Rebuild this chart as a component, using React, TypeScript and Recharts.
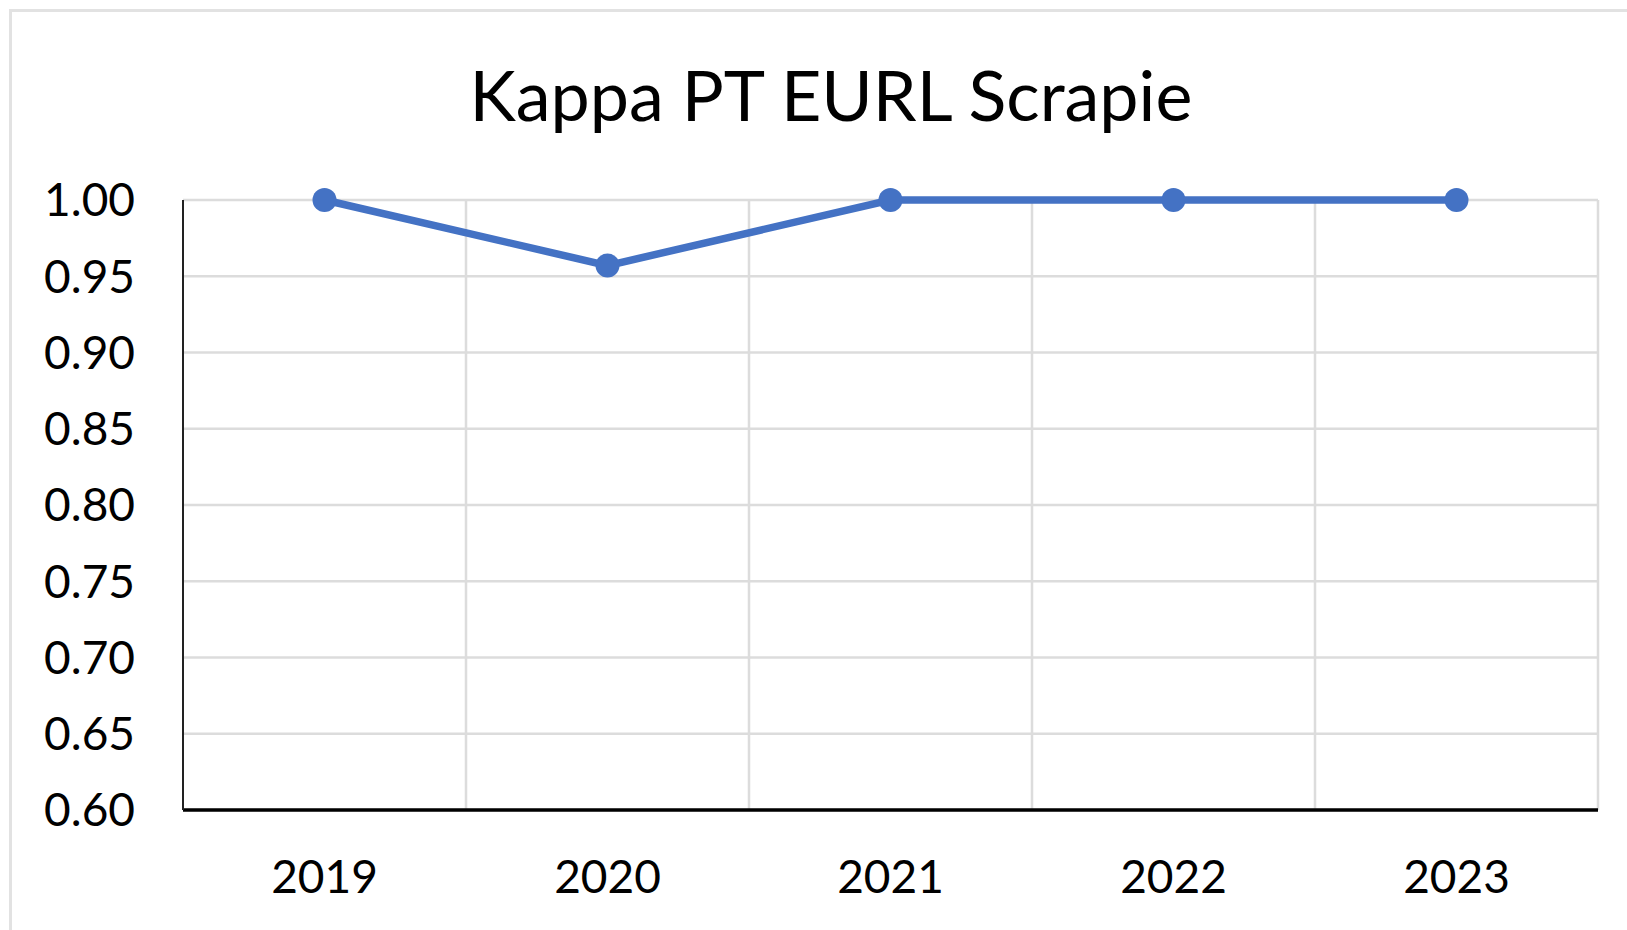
import { CartesianGrid, Line, LineChart, ReferenceLine, XAxis, YAxis } from "recharts";

const YEARS = ["2019", "2020", "2021", "2022", "2023"];
const KAPPA = [1.0, 0.957, 1.0, 1.0, 1.0];
const Y_TICKS = [0.6, 0.65, 0.7, 0.75, 0.8, 0.85, 0.9, 0.95, 1.0];

const FONT = "Lato, 'Open Sans', sans-serif";
const BLUE = "#4472c4";
const GRID = "#dcdcdc";

// x is the category slot index; points sit in the middle of each slot
const data = YEARS.map((year, i) => ({ x: i + 0.5, year, kappa: KAPPA[i] }));
const xTicks = data.map((d) => d.x);
const boundaries = YEARS.map((_, i) => i + 1);

export default function App() {
  return (
    <div
      style={{
        position: "absolute",
        left: 0,
        top: 0,
        width: 1627,
        height: 930,
        overflow: "hidden",
        background: "#fff",
        fontFamily: FONT,
      }}
    >
      <div
        style={{
          position: "absolute",
          left: 9,
          top: 9,
          width: 1700,
          height: 1000,
          border: "3px solid #e2e2e2",
        }}
      />
      <div
        style={{
          position: "absolute",
          left: 431,
          width: 800,
          top: 49,
          textAlign: "center",
          fontSize: 70,
          lineHeight: "90px",
          color: "#000",
        }}
      >
        Kappa PT EURL Scrapie
      </div>
      <div style={{ position: "absolute", left: 0, top: 0 }}>
        <LineChart
          width={1627}
          height={930}
          data={data}
          margin={{ top: 200, right: 29, bottom: 0, left: 0 }}
        >
          <CartesianGrid stroke={GRID} strokeWidth={2.5} vertical={false} />
          {boundaries.map((b) => (
            <ReferenceLine key={b} x={b} stroke={GRID} strokeWidth={2.5} />
          ))}
          <XAxis
            type="number"
            dataKey="x"
            domain={[0, YEARS.length]}
            ticks={xTicks}
            tickFormatter={(v) => YEARS[Math.floor(Number(v))]}
            height={120}
            tickSize={0}
            tickMargin={50}
            axisLine={{ stroke: "#000", strokeWidth: 3.5 }}
            tick={{ fill: "#000", fontSize: 46, fontFamily: FONT }}
          />
          <YAxis
            domain={[0.6, 1.0]}
            ticks={Y_TICKS}
            width={183}
            tickSize={0}
            tickMargin={48}
            tickFormatter={(v) => Number(v).toFixed(2)}
            axisLine={{ stroke: "#222", strokeWidth: 2 }}
            tick={{ fill: "#000", fontSize: 46, fontFamily: FONT }}
          />
          <Line
            type="linear"
            dataKey="kappa"
            stroke={BLUE}
            strokeWidth={7.5}
            dot={{ r: 12, fill: BLUE, stroke: BLUE, strokeWidth: 0 }}
            isAnimationActive={false}
          />
        </LineChart>
      </div>
    </div>
  );
}
